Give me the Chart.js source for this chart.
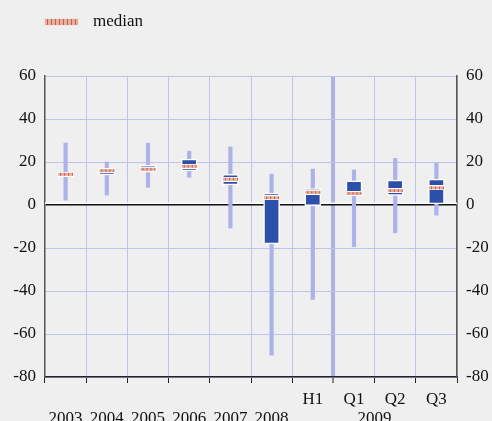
<!DOCTYPE html>
<html>
<head>
<meta charset="utf-8">
<script src="https://cdn.jsdelivr.net/npm/chart.js@4.4.1/dist/chart.umd.min.js"></script>
<style>
  html, body { margin: 0; padding: 0; background: #efefef; }
  #wrap { width: 492px; height: 421px; }
</style>
</head>
<body>
<div id="wrap"><canvas id="chart" width="492" height="421"></canvas></div>
<script>
// Periodos e rótulos do eixo x (duas linhas)
const categories   = ['2003', '2004', '2005', '2006', '2007', '2008', 'H1', 'Q1', 'Q2', 'Q3']
const periodLabels = ['', '', '', '', '', '', 'H1', 'Q1', 'Q2', 'Q3']
const yearLabels   = ['2003', '2004', '2005', '2006', '2007', '2008', '', '', '', '']
const groupLabel   = '2009'
const yTicks       = [-80, -60, -40, -20, 0, 20, 40, 60]

// Valores
const lowValues    = [2.3, 4.6, 8.2, 12.9, -10.7, -69.8, -43.9, -19.4, -12.9, -4.7]
const highValues   = [28.8, 20.0, 28.7, 25.0, 27.0, 14.4, 16.7, 16.3, 21.7, 19.4]
const q1Values     = [null, 14.0, 15.3, 15.8, 9.3, -18.1, -0.3, 5.0, 4.5, 0.5]
const q3Values     = [null, 16.8, 18.4, 21.4, 14.3, 5.5, 7.6, 11.2, 11.6, 12.0]
const medianValues = [14.3, 16.0, 16.6, 18.0, 12.0, 3.4, 5.9, 5.4, 6.7, 8.0]

const FONT = '"Liberation Serif", "Times New Roman", serif'
const WHISKER = '#adb2e8'
const GRID = '#bec2ee'
const BOX = '#2c4fa9'

/**
 * Desenha o marcador da mediana (listras vermelhas sobre salmão).
 */
function makeMedianImage(w, h, border) {
  const cv = document.createElement('canvas')
  cv.width = w
  cv.height = h
  const c = cv.getContext('2d')
  c.fillStyle = border
  c.fillRect(0, 0, w, h)
  c.fillStyle = '#e6b0a0'
  c.fillRect(1, 1, w - 2, h - 2)
  c.fillStyle = '#cc5a48'
  for (let x = 3; x < w - 1; x += 4) c.fillRect(x, 1, 1, h - 2)
  return cv
}

const medianImg = makeMedianImage(17, 5, '#ffffff')
const legendImg = makeMedianImage(35, 8, '#f4e4de')

const extras = {
  id: 'extras',
  beforeDatasetsDraw(chart) {
    // halo branco sobre a linha do zero
    const { ctx, chartArea, scales: { y } } = chart
    const y0 = y.getPixelForValue(0)
    ctx.save()
    ctx.fillStyle = '#ffffff'
    ctx.fillRect(chartArea.left, y0 - 2.5, chartArea.right - chartArea.left, 1.5)
    ctx.restore()
  },
  afterDraw(chart) {
    const { ctx, scales: { x } } = chart
    ctx.save()
    ctx.drawImage(legendImg, 44, 18)
    ctx.font = '17px ' + FONT
    ctx.fillStyle = '#111'
    ctx.textBaseline = 'alphabetic'
    ctx.fillText('median', 93, 26)
    // rótulo do grupo 2009, centrado sob H1..Q3
    const cx = (x.getPixelForValue(6) + x.getPixelForValue(9)) / 2
    ctx.textAlign = 'center'
    ctx.fillText(groupLabel, cx, 423)
    ctx.restore()
  }
}

const ctx = document.getElementById('chart').getContext('2d')
new Chart(ctx, {
  type: 'bar',
  data: {
    labels: categories,
    datasets: [
      {
        type: 'line',
        label: 'median',
        data: medianValues,
        showLine: false,
        pointStyle: medianImg,
        pointRadius: 6,
        order: 0
      },
      {
        label: 'box',
        data: categories.map((_, i) => q1Values[i] == null ? null : [q1Values[i], q3Values[i]]),
        backgroundColor: BOX,
        borderColor: '#ffffff',
        borderWidth: 1.5,
        borderSkipped: false,
        barThickness: 16,
        grouped: false,
        order: 1
      },
      {
        label: 'range',
        data: categories.map((_, i) => [lowValues[i], highValues[i]]),
        backgroundColor: WHISKER,
        borderWidth: 0,
        barThickness: 3.5,
        grouped: false,
        order: 2
      }
    ]
  },
  options: {
    responsive: false,
    animation: false,
    layout: { padding: { top: 76, left: 0, right: 0, bottom: 0 } },
    plugins: { legend: { display: false }, tooltip: { enabled: false } },
    scales: {
      x: {
        offset: true,
        grid: {
          offset: true,
          color: c => c.index === 7 ? WHISKER : GRID,
          lineWidth: c => c.index === 7 ? 4 : 1,
          tickColor: '#222',
          tickWidth: 1,
          tickLength: 6
        },
        border: { color: '#222', width: 1.5 },
        ticks: {
          autoSkip: false,
          maxRotation: 0,
          padding: 7,
          color: '#111',
          font: { family: FONT, size: 17, lineHeight: 1.1 },
          callback: (v, i) => [periodLabels[i], yearLabels[i]]
        },
        afterFit: s => { s.height = 44 }
      },
      y: {
        position: 'left',
        min: -80,
        max: 60,
        afterBuildTicks: s => { s.ticks = yTicks.map(v => ({ value: v })) },
        grid: {
          color: c => c.tick && c.tick.value === 0 ? '#111' : GRID,
          lineWidth: c => c.tick && c.tick.value === 0 ? 1.5 : 1,
          drawTicks: false
        },
        border: { color: '#555', width: 1.5 },
        ticks: { padding: 9, color: '#111', font: { family: FONT, size: 17 } },
        afterFit: s => { s.width = 45 }
      },
      y2: {
        position: 'right',
        min: -80,
        max: 60,
        afterBuildTicks: s => { s.ticks = yTicks.map(v => ({ value: v })) },
        grid: { drawOnChartArea: false, drawTicks: false },
        border: { color: '#555', width: 1.5 },
        ticks: { padding: 9, color: '#111', font: { family: FONT, size: 17 } },
        afterFit: s => { s.width = 35 }
      }
    }
  },
  plugins: [extras]
})
</script>
</body>
</html>
